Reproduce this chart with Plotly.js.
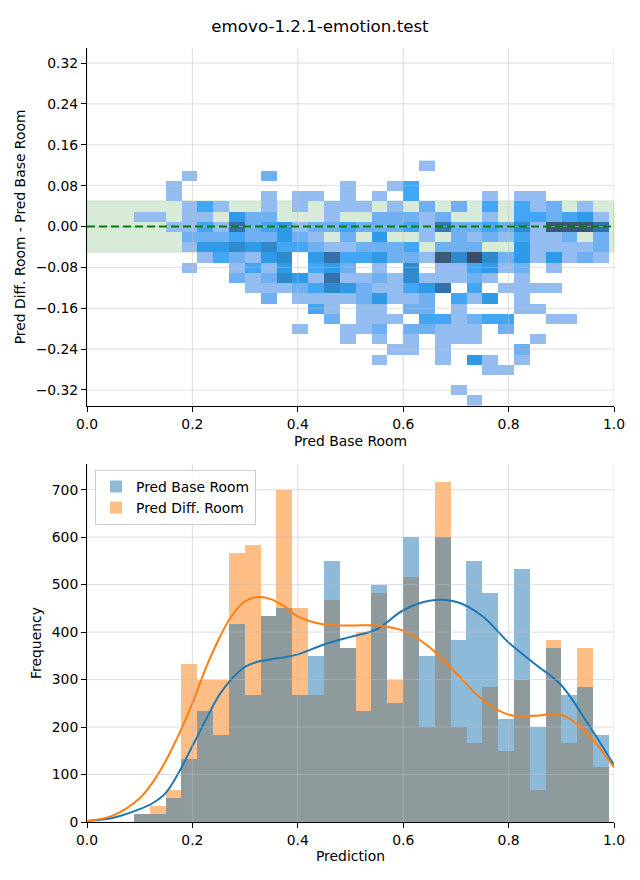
<!DOCTYPE html>
<html>
<head>
<meta charset="utf-8">
<script src="https://cdn.plot.ly/plotly-3.0.1.min.js"></script>
<style>
html,body{margin:0;padding:0;background:#ffffff;}
#chart{width:640px;height:880px;}
</style>
</head>
<body>
<div id="chart"></div>
<script>
// ---------------- data ----------------
const chartTitle = "emovo-1.2.1-emotion.test";

// bin centres of "Pred Base Room" / "Prediction" (shared by heatmap columns and histogram bars)
const predBins = [0.1042,0.1342,0.1643,0.1943,0.2244,0.2544,0.2844,0.3145,0.3445,0.3746,
                  0.4046,0.4346,0.4647,0.4947,0.5248,0.5548,0.5848,0.6149,0.6449,0.6750,
                  0.7050,0.7350,0.7651,0.7951,0.8252,0.8552,0.8852,0.9153,0.9453,0.9754];

// bin centres of "Pred Diff. Room - Pred Base Room", from top row to bottom row
const diffBinsTopDown = [0.119,0.099,0.079,0.059,0.039,0.019,-0.001,-0.021,-0.041,-0.061,
                         -0.081,-0.101,-0.121,-0.141,-0.161,-0.181,-0.201,-0.221,-0.241,-0.261,
                         -0.281,-0.301,-0.321,-0.341];

// 2D histogram counts, rows top -> bottom, columns follow predBins
const heatCountsTopDown = [
 [0,0,0,0,0,0,0,0,0,0,0,0,0,0,0,0,0,0,1,0,0,0,0,0,0,0,0,0,0,0],
 [0,0,0,1,0,0,0,0,2,0,0,0,0,0,0,0,0,0,0,0,0,0,0,0,0,0,0,0,0,0],
 [0,0,1,0,0,0,0,0,0,0,0,0,0,1,0,0,1,3,0,0,0,0,0,0,0,0,0,0,0,0],
 [0,0,1,0,0,0,0,0,1,0,1,1,0,1,0,1,0,3,0,0,0,0,1,0,1,1,0,0,0,0],
 [0,0,0,1,3,1,0,0,1,0,1,0,1,1,1,0,1,0,2,0,2,0,3,0,3,1,2,0,1,0],
 [1,1,0,1,1,0,4,2,2,0,0,0,1,0,0,2,2,2,1,2,0,0,1,0,3,3,2,3,4,1],
 [0,0,1,1,3,1,7,2,3,4,1,2,2,3,2,2,2,3,1,6,2,2,3,2,5,1,9,9,9,7],
 [0,0,0,2,2,2,3,2,2,4,2,1,0,2,0,4,0,0,1,0,2,1,2,1,3,1,1,2,0,2],
 [0,0,0,1,4,4,5,4,5,3,3,2,1,1,2,2,2,3,0,2,2,2,0,0,4,1,1,1,1,2],
 [0,0,0,0,1,3,2,1,4,5,0,4,7,3,3,4,2,2,1,9,5,10,5,2,4,1,4,1,2,1],
 [0,0,0,1,0,0,1,3,1,4,0,3,4,2,0,1,0,5,0,1,1,3,4,1,2,0,1,0,0,0],
 [0,0,0,0,0,0,2,1,2,5,4,1,7,1,1,2,1,5,1,1,1,2,1,0,1,0,0,0,0,0],
 [0,0,0,0,0,0,0,1,1,1,2,3,5,4,2,1,1,3,4,7,0,3,0,1,1,1,1,0,0,0],
 [0,0,0,0,0,0,0,0,2,0,1,1,1,1,2,4,1,1,2,0,3,1,4,0,1,0,0,0,0,0],
 [0,0,0,0,0,0,0,0,0,0,0,3,1,0,1,1,0,2,2,0,1,0,0,0,1,1,0,0,0,0],
 [0,0,0,0,0,0,0,0,0,0,0,0,2,0,1,1,1,0,3,3,1,2,3,3,0,0,1,1,0,0],
 [0,0,0,0,0,0,0,0,0,0,1,0,0,1,1,2,0,2,2,1,1,1,0,2,0,0,0,0,0,0],
 [0,0,0,0,0,0,0,0,0,0,0,0,0,1,0,1,0,1,0,1,1,1,0,0,0,1,0,0,0,0],
 [0,0,0,0,0,0,0,0,0,0,0,0,0,0,0,0,1,1,0,1,0,0,0,0,2,0,0,0,0,0],
 [0,0,0,0,0,0,0,0,0,0,0,0,0,0,0,1,0,0,0,1,0,4,1,0,1,0,0,0,0,0],
 [0,0,0,0,0,0,0,0,0,0,0,0,0,0,0,0,0,0,0,0,0,0,1,1,0,0,0,0,0,0],
 [0,0,0,0,0,0,0,0,0,0,0,0,0,0,0,0,0,0,0,0,0,0,0,0,0,0,0,0,0,0],
 [0,0,0,0,0,0,0,0,0,0,0,0,0,0,0,0,0,0,0,0,1,0,0,0,0,0,0,0,0,0],
 [0,0,0,0,0,0,0,0,0,0,0,0,0,0,0,0,0,0,0,0,0,1,0,0,0,0,0,0,0,0]
];

// histogram frequencies per bin
const baseRoomFreq = [16.7,16.7,50,133.3,233.3,183.3,416.7,266.7,433.3,450,
                      266.7,350,550,366.7,233.3,500,250,600,350,600,
                      383.3,550,483.3,216.7,533.3,200,366.7,266.7,283.3,183.3];
const diffRoomFreq = [16.7,33.3,66.7,333.3,300,300,566.7,583.3,433.3,700,
                      450,266.7,466.7,366.7,400,483.3,300,516.7,200,716.7,
                      200,166.7,283.3,150,300,66.7,383.3,166.7,366.7,116.7];

// KDE curves
const kdeX    = [0,0.05,0.1,0.125,0.15,0.175,0.2,0.225,0.25,0.275,0.3,0.325,0.35,0.375,0.4,
                 0.45,0.5,0.55,0.6,0.65,0.7,0.75,0.8,0.85,0.9,0.95,1.0];
const kdeBase = [2,9,27,40,62,106,160,214,266,302,327,338,343,347,353,
                 374,390,406,446,466,464,434,378,333,288,208,120];
const kdeDiff = [2,14,50,84,130,186,250,323,385,435,465,474,469,454,433,
                 416,414,414,403,368,314,258,226,224,226,185,115];

const xTicks    = [0,0.2,0.4,0.6,0.8,1.0];
const diffTicks = [-0.32,-0.24,-0.16,-0.08,0,0.08,0.16,0.24,0.32];
const freqTicks = [0,100,200,300,400,500,600,700];
const toleranceBand = 0.05;

// ---------------- styling ----------------
const FONT = 'DejaVu Sans, sans-serif';
const FS = 13.9;
const barWidth = 0.0303;
const heatScale = [
  [0,      '#93bdf0'],
  [1/9,    '#6eb0f2'],
  [2/9,    '#43a6f5'],
  [3/9,    '#2e9ae8'],
  [4/9,    '#2e89cd'],
  [5/9,    '#3279b8'],
  [6/9,    '#3670a8'],
  [7/9,    '#396394'],
  [8/9,    '#3a5878'],
  [1,      '#3a4e6a']
];

const zAsc = heatCountsTopDown.slice().reverse().map(r => r.map(v => v === 0 ? null : v));
const yAsc = diffBinsTopDown.slice().reverse();

const traces = [
  {
    type:'heatmap', x:predBins, y:yAsc, z:zAsc,
    zmin:1, zmax:10, colorscale:heatScale, showscale:false,
    xaxis:'x', yaxis:'y', hoverinfo:'skip'
  },
  {
    type:'bar', x:predBins, y:diffRoomFreq, width:barWidth,
    name:'Pred Diff. Room', legendrank:2, opacity:0.5,
    marker:{color:'#ff7f0e', line:{width:0}},
    xaxis:'x2', yaxis:'y2', hoverinfo:'skip'
  },
  {
    type:'bar', x:predBins, y:baseRoomFreq, width:barWidth,
    name:'Pred Base Room', legendrank:1, opacity:0.5,
    marker:{color:'#1f77b4', line:{width:0}},
    xaxis:'x2', yaxis:'y2', hoverinfo:'skip'
  },
  {
    type:'scatter', mode:'lines', x:kdeX, y:kdeBase, showlegend:false,
    line:{color:'#1f77b4', width:2, shape:'spline', smoothing:1},
    xaxis:'x2', yaxis:'y2', hoverinfo:'skip'
  },
  {
    type:'scatter', mode:'lines', x:kdeX, y:kdeDiff, showlegend:false,
    line:{color:'#ff7f0e', width:2, shape:'spline', smoothing:1},
    xaxis:'x2', yaxis:'y2', hoverinfo:'skip'
  }
];

const gridColor = 'rgba(190,190,190,0.5)';
const shapes = [];
shapes.push({type:'rect', xref:'x domain', x0:0, x1:1, yref:'y', y0:-toleranceBand, y1:toleranceBand,
             fillcolor:'#d8ebd8', line:{color:'#c8e3c8', width:1}, layer:'below'});
xTicks.forEach(t => {
  shapes.push({type:'line', xref:'x', x0:t, x1:t, yref:'y domain', y0:0, y1:1, line:{color:gridColor, width:1}, layer:'above'});
  shapes.push({type:'line', xref:'x2', x0:t, x1:t, yref:'y2 domain', y0:0, y1:1, line:{color:gridColor, width:1}, layer:'above'});
});
diffTicks.forEach(t => {
  shapes.push({type:'line', xref:'x domain', x0:0, x1:1, yref:'y', y0:t, y1:t, line:{color:gridColor, width:1}, layer:'above'});
});
freqTicks.forEach(t => {
  shapes.push({type:'line', xref:'x2 domain', x0:0, x1:1, yref:'y2', y0:t, y1:t, line:{color:gridColor, width:1}, layer:'above'});
});
shapes.push({type:'line', xref:'x domain', x0:0, x1:1, yref:'y', y0:0, y1:0,
             line:{color:'#008000', width:2, dash:'8px,4px'}, layer:'above'});

const axisCommon = {
  showline:true, linecolor:'#000', linewidth:1,
  ticks:'outside', ticklen:5, tickwidth:1, tickcolor:'#000',
  showgrid:false, zeroline:false,
  tickfont:{family:FONT, size:FS, color:'#000'}
};

const layout = {
  width:640, height:880,
  margin:{l:87, r:26, t:48, b:58},
  paper_bgcolor:'#ffffff', plot_bgcolor:'#ffffff',
  font:{family:FONT, size:FS, color:'#000'},
  title:{text:chartTitle, x:0.5, xref:'container', xanchor:'center',
         y:1-26/880, yref:'container', yanchor:'middle',
         font:{family:FONT, size:16.67, color:'#000'}},
  barmode:'overlay', bargap:0,
  showlegend:true,
  legend:{x:0.0152, y:0.4548, xanchor:'left', yanchor:'top',
          bgcolor:'rgba(255,255,255,0.8)', bordercolor:'#cccccc', borderwidth:1,
          font:{family:FONT, size:FS, color:'#000'}},
  xaxis: Object.assign({}, axisCommon, {
    domain:[0,1], anchor:'y', range:[0,1], tickvals:xTicks, tickformat:'.1f',
    title:{text:'Pred Base Room', standoff:5, font:{family:FONT, size:FS, color:'#000'}}
  }),
  yaxis: Object.assign({}, axisCommon, {
    domain:[0.5375,1], anchor:'x', range:[-0.3513,0.3494], tickvals:diffTicks, tickformat:'.2f',
    title:{text:'Pred Diff. Room - Pred Base Room', standoff:6, font:{family:FONT, size:FS, color:'#000'}}
  }),
  xaxis2: Object.assign({}, axisCommon, {
    domain:[0,1], anchor:'y2', range:[0,1], tickvals:xTicks, tickformat:'.1f',
    title:{text:'Prediction', standoff:4, font:{family:FONT, size:FS, color:'#000'}}
  }),
  yaxis2: Object.assign({}, axisCommon, {
    domain:[0,0.4625], anchor:'x2', range:[0,754], tickvals:freqTicks,
    title:{text:'Frequency', standoff:6, font:{family:FONT, size:FS, color:'#000'}}
  }),
  shapes:shapes
};

Plotly.newPlot('chart', traces, layout, {displayModeBar:false, staticPlot:true});
</script>
</body>
</html>
